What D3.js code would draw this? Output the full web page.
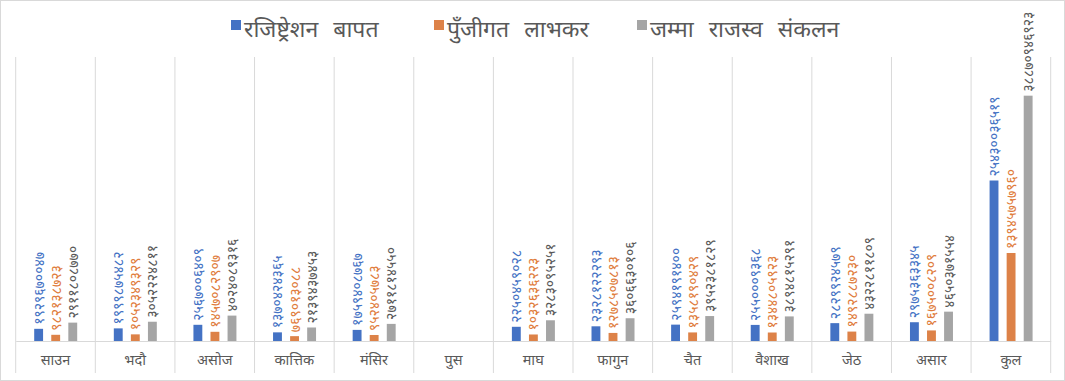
<!DOCTYPE html>
<html><head><meta charset="utf-8">
<script src="https://cdn.jsdelivr.net/npm/d3@7"></script>
<style>body{margin:0;background:#fff}svg{display:block}</style>
</head><body>
<svg id="c" width="1065" height="381"></svg>
<script>
const categories = ["साउन","भदौ","असोज","कात्तिक","मंसिर","पुस","माघ","फागुन","चैत","वैशाख","जेठ","असार","कुल"];
const seriesNames = ["रजिष्ट्रेशन बापत","पुँजीगत लाभकर","जम्मा राजस्व संकलन"];
const registration = [1929670047,1999875482,2567006409,1370424365,1759408767,null,2250459028,2328122293,2594191400,2550009368,2829924579,2975363345,25430036519];
const capitalGains = [982138723,1052349329,1457082907,769013088,952405783,null,1032636223,1278507813,1358190429,1344805923,1492887230,1675008209,13945757960];
const totalRevenue = [2911808770,3052224811,4024089316,2139437453,2711814550,null,3283095251,3606630106,3952381829,3894815291,4322811809,4650371554,38870946923];
const colors = ["#4472C4","#DD8248","#A5A5A5"];
const labelColors = ["#4472C4","#E07C3C","#595959"];

const svg = d3.select("#c");
const W = 1065, H = 381;
const font = "'Noto Sans Devanagari','Noto Sans','Lohit Devanagari','Mangal',sans-serif";

svg.append("rect").attr("x",0.5).attr("y",0.5).attr("width",W-1).attr("height",H-1)
  .attr("fill","#fff").attr("stroke","#d9d9d9");

const x = d3.scaleBand().domain(categories).range([15.7,1050.7]).paddingInner(0).paddingOuter(0);
const y = d3.scaleLinear().domain([0,4.5e10]).range([341,57]);
const xs = d3.scaleBand().domain([0,1,2]).range([18.5, 61.5]).paddingInner(0.48).paddingOuter(0);

const seps = categories.map(c=>x(c)).concat([x.range()[1]]);
svg.append("g").selectAll("line").data(seps).join("line")
  .attr("x1",d=>d).attr("x2",d=>d).attr("y1",57).attr("y2",373)
  .attr("stroke","#d9d9d9").attr("stroke-width",1);

const xAxis = d3.axisBottom(x).tickSize(0).tickPadding(14);
const ax = svg.append("g").attr("transform","translate(0,341)").call(xAxis);
ax.select(".domain").attr("stroke","#d9d9d9");
ax.selectAll("text").attr("fill","#595959").style("font-family",font).style("font-size","14.5px");

const dev = s => s.replace(/[0-9]/g, d => String.fromCharCode(0x0966 + +d));
const series = [registration, capitalGains, totalRevenue];
series.forEach((vals,si)=>{
  const data = categories.map((c,i)=>({c, v: vals[i]})).filter(d=>d.v!=null);
  svg.append("g").selectAll("rect").data(data).join("rect")
    .attr("x",d=>x(d.c)+xs(si)).attr("width",xs.bandwidth())
    .attr("y",d=>y(d.v)).attr("height",d=>y(0)-y(d.v)).attr("fill",colors[si]);
  svg.append("g").selectAll("text").data(data).join("text")
    .attr("transform",d=>`translate(${x(d.c)+xs(si)+xs.bandwidth()/2+5},${y(d.v)-4}) rotate(-90)`)
    .attr("text-anchor","start").attr("fill",labelColors[si])
    .style("font-family",font).style("font-size","14px")
    .text(d=>dev(String(d.v)));
});

const legX = [231, 434, 637];
const lg = svg.append("g");
seriesNames.forEach((n,i)=>{
  lg.append("rect").attr("x",legX[i]).attr("y",20).attr("width",10).attr("height",10).attr("fill",colors[i]);
  lg.append("text").attr("x",legX[i]+13).attr("y",37).attr("fill","#595959")
    .style("font-family",font).style("font-size","23px").style("word-spacing","9px").text(n);
});
</script>
</body></html>
